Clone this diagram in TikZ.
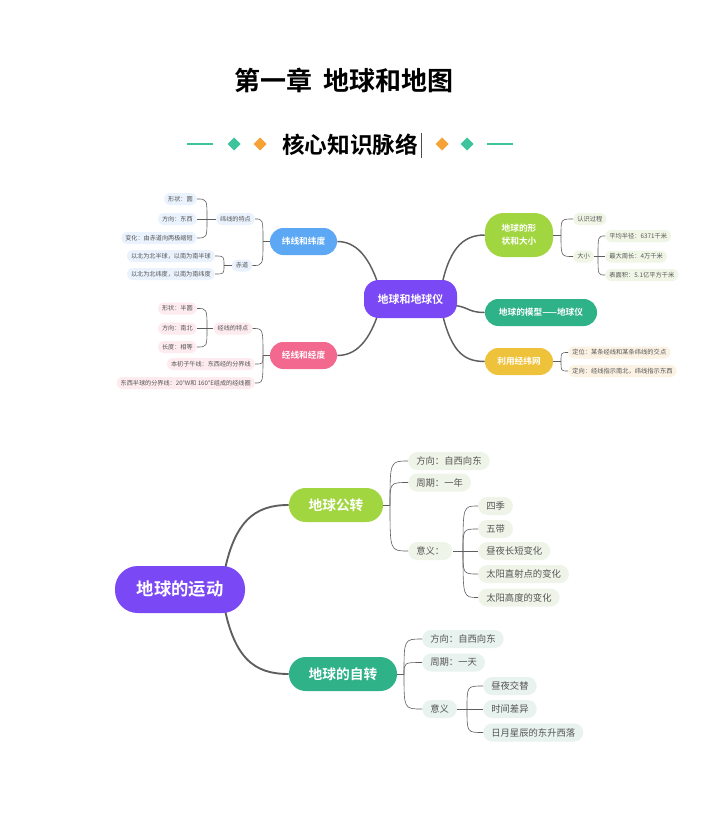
\documentclass[tikz,border=0pt]{standalone}
\usepackage{fontspec}
\setmainfont{Noto Sans CJK SC}[BoldFont={Noto Sans CJK SC Bold}]
\usetikzlibrary{backgrounds}
\definecolor{cpurple}{HTML}{7A48F4}
\definecolor{cblue}{HTML}{5CA8F4}
\definecolor{cpink}{HTML}{F2688E}
\definecolor{clime}{HTML}{A2D640}
\definecolor{cteal}{HTML}{2FB287}
\definecolor{cyellow}{HTML}{EFC23C}
\definecolor{corange}{HTML}{F6A234}
\definecolor{cdeco}{HTML}{3DC49C}
\definecolor{lblue}{HTML}{EAF2FD}
\definecolor{lpink}{HTML}{FDEBEF}
\definecolor{llime}{HTML}{EFF6E6}
\definecolor{lbeige}{HTML}{FBF2E4}
\definecolor{lgreen}{HTML}{EEF5E8}
\definecolor{lteal}{HTML}{E8F2EE}
\definecolor{gtext}{HTML}{555555}
\definecolor{lineg}{HTML}{5E5E5E}
\begin{document}
\begin{tikzpicture}[x=0.75pt,y=-0.75pt,
  wh/.style 2 args={minimum width=#1*0.75pt, minimum height=#2*0.75pt},
  bignode/.style={fill=#1, text=white, font=\bfseries, inner sep=0pt, align=center},
  tiny/.style={fill=#1, text=gtext, inner xsep=3pt, inner ysep=0pt, minimum height=9pt, rounded corners=4.5pt, font=\fontsize{4.6}{5}\selectfont},
  tinyr/.style={fill=#1, text=gtext, inner xsep=3pt, inner ysep=0pt, minimum height=9pt, rounded corners=4.5pt, font=\fontsize{4.7}{5}\selectfont},
  low/.style={fill=#1, text=gtext, inner xsep=6pt, inner ysep=0pt, minimum height=13.5pt, rounded corners=6.75pt, font=\fontsize{7}{8}\selectfont},
  mainl/.style={draw=lineg, line width=1.1pt},
  mainb/.style={draw=lineg, line width=1.4pt},
  thin/.style={draw=lineg, line width=0.45pt}
]
\useasboundingbox (0,0) rectangle (709,820);

% ---------- titles ----------
\node[font=\fontsize{19.5}{21}\selectfont\bfseries] (title) at (344,80) {第一章\ \ 地球和地图};
\node[font=\fontsize{17}{19}\selectfont\bfseries] (sub) at (350,145) {核心知识脉络};
\coordinate (curA) at (421,133);
\coordinate (curB) at (421,158);
\draw[line width=0.6pt, draw=black!70] (curA) -- (curB);
\draw[draw=cdeco, line width=1.3pt] (187,144) -- (213,144);
\draw[draw=cdeco, line width=1.3pt] (487,144) -- (513,144);
\fill[cdeco] (234,137.5) -- (240.5,144) -- (234,150.5) -- (227.5,144) -- cycle;
\fill[corange] (260,137.5) -- (266.5,144) -- (260,150.5) -- (253.5,144) -- cycle;
\fill[corange] (442,137.5) -- (448.5,144) -- (442,150.5) -- (435.5,144) -- cycle;
\fill[cdeco] (467,137.5) -- (473.5,144) -- (467,150.5) -- (460.5,144) -- cycle;

% ---------- top mind map ----------
\node[bignode=cpurple, wh={93}{38}, rounded corners=11pt, font=\fontsize{8.2}{9}\selectfont\bfseries] (c) at (410.5,299) {地球和地球仪};
\node[bignode=cblue, wh={67}{27}, rounded corners=10pt, font=\fontsize{6.5}{7}\selectfont\bfseries] (wd) at (303.5,241.5) {纬线和纬度};
\node[bignode=cpink, wh={67}{27}, rounded corners=10pt, font=\fontsize{6.5}{7}\selectfont\bfseries] (jd) at (303.5,355.5) {经线和经度};
\node[bignode=clime, wh={68}{44}, rounded corners=14pt, font=\fontsize{6.5}{9.5}\selectfont\bfseries] (xz) at (519,235) {地球的形\\状和大小};
\node[bignode=cteal, wh={112}{27}, rounded corners=10pt, font=\fontsize{6.5}{7}\selectfont\bfseries] (mx) at (541,312.5) {地球的模型——地球仪};
\node[bignode=cyellow, wh={68}{27}, rounded corners=10pt, font=\fontsize{6.5}{7}\selectfont\bfseries] (ly) at (519,361.5) {利用经纬网};

% left: latitude
\node[tiny=lblue] (wtd) at (235.5,219) {纬线的特点};
\node[tiny=lblue] (cd) at (242,265.5) {赤道};
\node[tiny=lblue, anchor=east] (wa) at (197,199) {形状：圆};
\node[tiny=lblue, anchor=east] (wb) at (197,219) {方向：东西};
\node[tiny=lblue, anchor=east] (wc) at (197,238) {变化：由赤道向两极缩短};
\node[tiny=lblue, anchor=east] (wd1) at (215,256) {以北为北半球，以南为南半球};
\node[tiny=lblue, anchor=east] (wd2) at (215,274) {以北为北纬度，以南为南纬度};
% left: longitude
\node[tiny=lpink] (jtd) at (233,328.5) {经线的特点};
\node[tiny=lpink, anchor=east] (ja) at (197,308.5) {形状：半圆};
\node[tiny=lpink, anchor=east] (jb) at (197,328.5) {方向：南北};
\node[tiny=lpink, anchor=east] (jc) at (197,347) {长度：相等};
\node[tiny=lpink, anchor=east] (je) at (255,364) {本初子午线：东西经的分界线};
\node[tiny=lpink, anchor=east] (jf) at (255,383) {东西半球的分界线：20°W和 160°E组成的经线圈};
% right
\node[tinyr=llime, anchor=west] (rs) at (573,219) {认识过程};
\node[tinyr=llime, anchor=west] (dx) at (573,256.5) {大小};
\node[tinyr=llime, anchor=west] (r1) at (605,236) {平均半径：6371千米};
\node[tinyr=llime, anchor=west] (r2) at (605,256.5) {最大周长：4万千米};
\node[tinyr=llime, anchor=west] (r3) at (605,275) {表面积：5.1亿平方千米};
\node[tinyr=lbeige, anchor=west] (y1) at (568,352.5) {定位：某条经线和某条纬线的交点};
\node[tinyr=lbeige, anchor=west] (y2) at (568,371) {定向：经线指示南北，纬线指示东西};

% ---------- bottom mind map ----------
\node[bignode=cpurple, wh={130}{47}, rounded corners=17pt, font=\fontsize{13}{14}\selectfont\bfseries] (yd) at (180,589.5) {地球的运动};
\node[bignode=clime, wh={94}{34}, rounded corners=12.5pt, font=\fontsize{10.3}{11}\selectfont\bfseries] (gz) at (336,505) {地球公转};
\node[bignode=cteal, wh={108}{34}, rounded corners=12.5pt, font=\fontsize{10.3}{11}\selectfont\bfseries] (zz) at (343,674) {地球的自转};

\node[low=lgreen, anchor=west] (g1) at (408,461) {方向：自西向东};
\node[low=lgreen, anchor=west] (g2) at (408,482.5) {周期：一年};
\node[low=lgreen, anchor=west] (g3) at (408,551) {意义：};
\node[low=lgreen, anchor=west] (m1) at (478,506) {四季};
\node[low=lgreen, anchor=west] (m2) at (478,529) {五带};
\node[low=lgreen, anchor=west] (m3) at (478,551) {昼夜长短变化};
\node[low=lgreen, anchor=west] (m4) at (478,574) {太阳直射点的变化};
\node[low=lgreen, anchor=west] (m5) at (478,597.5) {太阳高度的变化};

\node[low=lteal, anchor=west] (z1) at (422,639) {方向：自西向东};
\node[low=lteal, anchor=west] (z2) at (422,662.5) {周期：一天};
\node[low=lteal, anchor=west] (z3) at (422,709) {意义};
\node[low=lteal, anchor=west] (n1) at (483,686) {昼夜交替};
\node[low=lteal, anchor=west] (n2) at (483,709) {时间差异};
\node[low=lteal, anchor=west] (n3) at (483,732.5) {日月星辰的东升西落};

% ---------- connectors ----------
\begin{scope}[on background layer]
\fill[white] (0,0) rectangle (709,820);
% main top
\draw[mainl] ([shift={(-30,-7)}]c.center) .. controls (370,255) and (355,241.5) .. (wd.east);
\draw[mainl] ([shift={(-30,7)}]c.center) .. controls (370,343) and (355,355.5) .. (jd.east);
\draw[mainl] ([shift={(30,-7)}]c.center) .. controls (448,250) and (462,235) .. (xz.west);
\draw[mainl] ([shift={(35,6)}]c.center) .. controls (470,305) and (465,312.5) .. (mx.west);
\draw[mainl] ([shift={(30,7)}]c.center) .. controls (450,350) and (462,361.5) .. (ly.west);
% main bottom
\draw[mainb] ([shift={(42,-4)}]yd.center) .. controls (232,520) and (255,505) .. (gz.west);
\draw[mainb] ([shift={(42,4)}]yd.center) .. controls (232,660) and (255,674) .. (zz.west);
\end{scope}

% brackets top-left
\coordinate (s1) at (207,219);
\draw[thin] (wtd.west) -- (wb.east);
\draw[thin] (s1) .. controls (s1 |- wa.east) .. (wa.east);
\draw[thin] (s1) .. controls (s1 |- wc.east) .. (wc.east);
\coordinate (s2) at (224,265.5);
\draw[thin] (cd.west) -- (s2);
\draw[thin] (s2) .. controls (s2 |- wd1.east) .. (wd1.east);
\draw[thin] (s2) .. controls (s2 |- wd2.east) .. (wd2.east);
\coordinate (s3) at (263,241.5);
\draw[thin] (wd.west) -- (s3);
\draw[thin] (s3) .. controls (s3 |- wtd.east) .. (wtd.east);
\draw[thin] (s3) .. controls (s3 |- cd.east) .. (cd.east);
\coordinate (s4) at (207,328.5);
\draw[thin] (jtd.west) -- (jb.east);
\draw[thin] (s4) .. controls (s4 |- ja.east) .. (ja.east);
\draw[thin] (s4) .. controls (s4 |- jc.east) .. (jc.east);
\coordinate (s5) at (263,355.5);
\draw[thin] (jd.west) -- (s5);
\draw[thin] (s5) .. controls (s5 |- jtd.east) .. (jtd.east);
\draw[thin] (s5) .. controls (s5 |- je.east) .. (je.east);
\draw[thin] (s5) .. controls (s5 |- jf.east) .. (jf.east);
% brackets top-right
\coordinate (s6) at (561,235);
\draw[thin] (xz.east) -- (s6);
\draw[thin] (s6) .. controls (s6 |- rs.west) .. (rs.west);
\draw[thin] (s6) .. controls (s6 |- dx.west) .. (dx.west);
\coordinate (s7) at (598,256.5);
\draw[thin] (dx.east) -- (r2.west);
\draw[thin] (s7) .. controls (s7 |- r1.west) .. (r1.west);
\draw[thin] (s7) .. controls (s7 |- r3.west) .. (r3.west);
\coordinate (s8) at (561,361.5);
\draw[thin] (ly.east) -- (s8);
\draw[thin] (s8) .. controls (s8 |- y1.west) .. (y1.west);
\draw[thin] (s8) .. controls (s8 |- y2.west) .. (y2.west);
% brackets bottom
\coordinate (b1) at (390,505);
\draw[thin] (gz.east) -- (b1);
\draw[thin] (b1) .. controls (b1 |- g1.west) .. (g1.west);
\draw[thin] (b1) .. controls (b1 |- g2.west) .. (g2.west);
\draw[thin] (b1) .. controls (b1 |- g3.west) .. (g3.west);
\coordinate (b2) at (463,551);
\draw[thin] (g3.east) -- (m3.west);
\draw[thin] (b2) .. controls (b2 |- m1.west) .. (m1.west);
\draw[thin] (b2) .. controls (b2 |- m2.west) .. (m2.west);
\draw[thin] (b2) .. controls (b2 |- m4.west) .. (m4.west);
\draw[thin] (b2) .. controls (b2 |- m5.west) .. (m5.west);
\coordinate (b3) at (404,674);
\draw[thin] (zz.east) -- (b3);
\draw[thin] (b3) .. controls (b3 |- z1.west) .. (z1.west);
\draw[thin] (b3) .. controls (b3 |- z2.west) .. (z2.west);
\draw[thin] (b3) .. controls (b3 |- z3.west) .. (z3.west);
\coordinate (b4) at (467,709);
\draw[thin] (z3.east) -- (n2.west);
\draw[thin] (b4) .. controls (b4 |- n1.west) .. (n1.west);
\draw[thin] (b4) .. controls (b4 |- n3.west) .. (n3.west);
\end{tikzpicture}
\end{document}
